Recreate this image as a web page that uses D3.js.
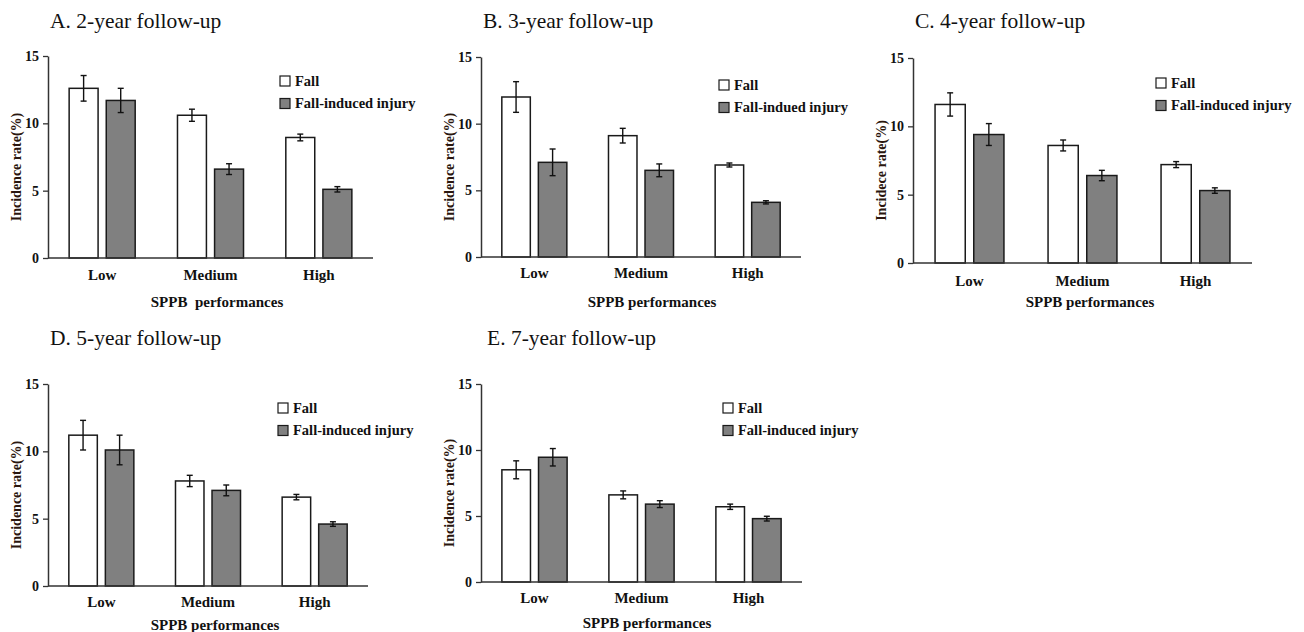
<!DOCTYPE html>
<html>
<head>
<meta charset="utf-8">
<script src="https://cdn.jsdelivr.net/npm/d3@7"></script>
<style>
    body { margin: 0; background: #fff; }
</style>
</head>
<body>
<div id="chart"></div>
<script>
/**
 * Incidence of falls / fall-induced injury by SPPB performance, five follow-ups
 */

const CATEGORIES = ["Low", "Medium", "High"];
const SERIES = ["fall", "injury"];

const PANEL_TITLES = ["A. 2-year follow-up", "B. 3-year follow-up", "C. 4-year follow-up", "D. 5-year follow-up", "E. 7-year follow-up"];
const Y_LABELS = ["Incidence rate(%)", "Incidence rate(%)", "Incidece rate(%)", "Incidence rate(%)", "Incidence rate(%)"];
const X_LABELS = ["SPPB  performances", "SPPB performances", "SPPB performances", "SPPB performances", "SPPB performances"];
const LEGEND_FALL = ["Fall", "Fall", "Fall", "Fall", "Fall"];
const LEGEND_INJURY = ["Fall-induced injury", "Fall-indued injury", "Fall-induced injury", "Fall-induced injury", "Fall-induced injury"];
const Y_TICKS = [0, 5, 10, 15];

// rows = panels A..E, columns = Low, Medium, High
const FALL_RATE = [
    [12.6, 10.6, 8.95],
    [12.0, 9.1, 6.9],
    [11.6, 8.6, 7.2],
    [11.2, 7.8, 6.6],
    [8.5, 6.6, 5.7]
];
const FALL_ERR = [
    [0.95, 0.45, 0.25],
    [1.15, 0.55, 0.15],
    [0.85, 0.4, 0.22],
    [1.1, 0.42, 0.2],
    [0.68, 0.3, 0.2]
];
const INJURY_RATE = [
    [11.7, 6.6, 5.1],
    [7.1, 6.5, 4.1],
    [9.4, 6.4, 5.3],
    [10.1, 7.1, 4.6],
    [9.45, 5.9, 4.8]
];
const INJURY_ERR = [
    [0.9, 0.4, 0.2],
    [1.0, 0.48, 0.12],
    [0.8, 0.38, 0.2],
    [1.1, 0.4, 0.17],
    [0.66, 0.26, 0.18]
];

// where each panel sits on the page (layout only)
const LAYOUT = [
    {left: 48, right: 373, top: 56, bottom: 258, titleX: 50, titleY: 28, legX: 280, legY: 76, tickY: 280, labelY: 307, labelX: 217},
    {left: 481, right: 801, top: 57, bottom: 257, titleX: 483, titleY: 28, legX: 719, legY: 80, tickY: 278, labelY: 307, labelX: 652},
    {left: 913, right: 1252, top: 58, bottom: 263, titleX: 915, titleY: 28, legX: 1156, legY: 78, tickY: 286, labelY: 307, labelX: 1090},
    {left: 48, right: 368, top: 384, bottom: 586, titleX: 50, titleY: 345, legX: 278, legY: 403, tickY: 607, labelY: 630, labelX: 215},
    {left: 481, right: 802, top: 384, bottom: 582, titleX: 487, titleY: 345, legX: 723, legY: 403, tickY: 603, labelY: 628, labelX: 647}
];

const FONT = "Liberation Serif";
const FILL = {fall: "#ffffff", injury: "#808080"};
const INK = "#1a1a1a";

const svg = d3.select("#chart").append("svg")
    .attr("width", 1304)
    .attr("height", 632)
    .attr("font-family", FONT);

const boldText = (sel, size) => sel
    .attr("font-family", FONT)
    .attr("font-size", size)
    .attr("font-weight", "bold")
    .attr("fill", "#111");

const drawPanel = (p) => {
    const L = LAYOUT[p];
    const g = svg.append("g").attr("class", "panel");

    const rows = CATEGORIES.map((c, i) => ({
        cat: c,
        fall: {v: FALL_RATE[p][i], e: FALL_ERR[p][i]},
        injury: {v: INJURY_RATE[p][i], e: INJURY_ERR[p][i]}
    }));

    const x0 = d3.scaleBand().domain(CATEGORIES).range([L.left, L.right]);
    const x1 = d3.scaleBand().domain(SERIES).range([0, x0.bandwidth()])
        .paddingInner(0.22).paddingOuter(0.57);
    const y = d3.scaleLinear().domain([0, 15]).range([L.bottom, L.top]);

    g.append("text")
        .attr("x", L.titleX).attr("y", L.titleY)
        .attr("font-family", FONT)
        .attr("font-size", 21.5)
        .attr("fill", "#111")
        .text(PANEL_TITLES[p]);

    // bars
    const group = g.selectAll(".cat")
        .data(rows)
        .join("g")
        .attr("class", "cat")
        .attr("transform", d => `translate(${x0(d.cat)},0)`);

    group.selectAll("rect")
        .data(d => SERIES.map(s => ({s, ...d[s]})))
        .join("rect")
        .attr("x", d => x1(d.s))
        .attr("y", d => y(d.v))
        .attr("width", x1.bandwidth())
        .attr("height", d => y(0) - y(d.v))
        .attr("fill", d => FILL[d.s])
        .attr("stroke", INK)
        .attr("stroke-width", 1.5);

    // error bars
    const err = group.selectAll(".err")
        .data(d => SERIES.map(s => ({s, ...d[s]})))
        .join("g")
        .attr("class", "err")
        .attr("stroke", "#111")
        .attr("stroke-width", 1.4);
    const cx = d => x1(d.s) + x1.bandwidth() / 2;
    err.append("line")
        .attr("x1", cx).attr("x2", cx)
        .attr("y1", d => y(d.v + d.e)).attr("y2", d => y(d.v - d.e));
    err.append("line")
        .attr("x1", d => cx(d) - 3).attr("x2", d => cx(d) + 3)
        .attr("y1", d => y(d.v + d.e)).attr("y2", d => y(d.v + d.e));
    err.append("line")
        .attr("x1", d => cx(d) - 3).attr("x2", d => cx(d) + 3)
        .attr("y1", d => y(d.v - d.e)).attr("y2", d => y(d.v - d.e));

    // axes
    const yAxis = g.append("g")
        .attr("transform", `translate(${L.left},0)`)
        .call(d3.axisLeft(y).tickValues(Y_TICKS).tickSize(5).tickPadding(4).tickSizeOuter(0));
    yAxis.attr("font-family", FONT);
    yAxis.select(".domain").attr("stroke", "#333").attr("stroke-width", 1.5);
    yAxis.selectAll(".tick line").attr("stroke", "#333").attr("stroke-width", 1.3);
    yAxis.selectAll(".tick text").call(boldText, 14);

    g.append("line")
        .attr("x1", L.left).attr("x2", L.right)
        .attr("y1", y(0)).attr("y2", y(0))
        .attr("stroke", "#333").attr("stroke-width", 1.5);

    g.selectAll(".xtick")
        .data(CATEGORIES)
        .join("text")
        .attr("class", "xtick")
        .attr("x", c => x0(c) + x0.bandwidth() / 2)
        .attr("y", L.tickY)
        .attr("text-anchor", "middle")
        .call(boldText, 15)
        .text(c => c);

    g.append("text")
        .attr("x", L.labelX).attr("y", L.labelY)
        .attr("text-anchor", "middle")
        .call(boldText, 15)
        .style("white-space", "pre")
        .text(X_LABELS[p]);

    g.append("text")
        .attr("transform", `translate(${L.left - 32},${(L.top + L.bottom) / 2 + 10}) rotate(-90)`)
        .attr("dy", "0.35em")
        .attr("text-anchor", "middle")
        .call(boldText, 14)
        .attr("fill", "#2a160e")
        .text(Y_LABELS[p]);

    // legend
    const legend = g.selectAll(".legend")
        .data([{s: "fall", label: LEGEND_FALL[p]}, {s: "injury", label: LEGEND_INJURY[p]}])
        .join("g")
        .attr("class", "legend")
        .attr("transform", (d, i) => `translate(${L.legX},${L.legY + i * 22.5})`);
    legend.append("rect")
        .attr("width", 10).attr("height", 10)
        .attr("fill", d => FILL[d.s])
        .attr("stroke", INK)
        .attr("stroke-width", 1.2);
    legend.append("text")
        .attr("x", 15).attr("y", 9.5)
        .call(boldText, 14.5)
        .text(d => d.label);
};

PANEL_TITLES.forEach((t, p) => drawPanel(p));
</script>
</body>
</html>
